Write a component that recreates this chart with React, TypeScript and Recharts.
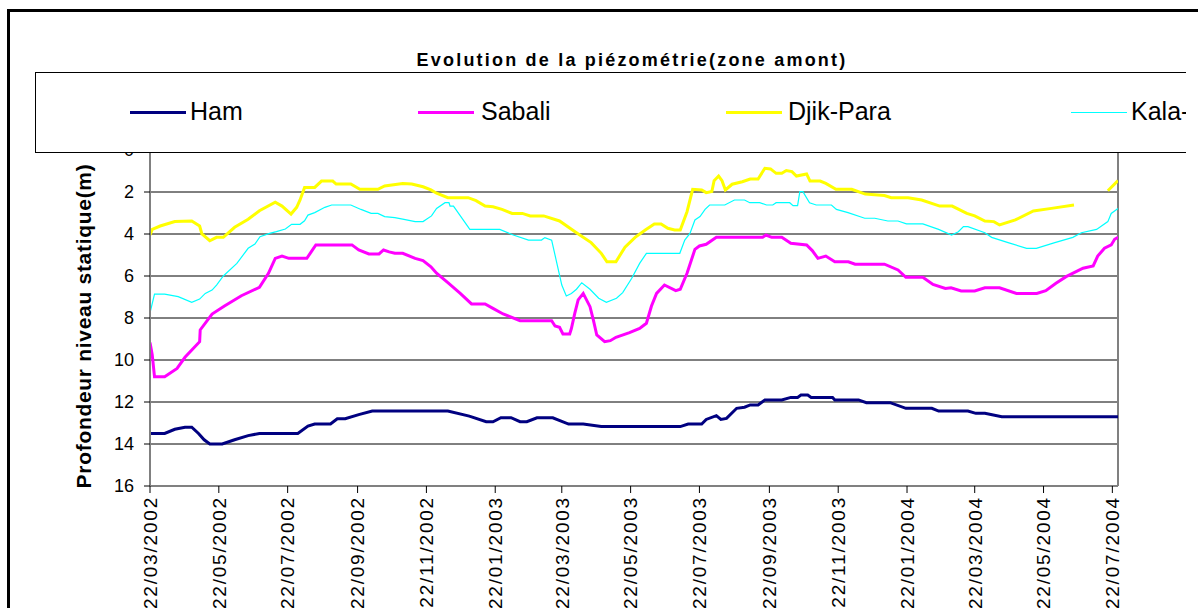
import { LineChart, Line, XAxis, YAxis, CartesianGrid, ReferenceLine } from 'recharts'

// jours depuis le 22/03/2002, profondeur (m)
const ham: [number, number][] = [
  [0, 13.5], [13, 13.5], [22, 13.3], [31, 13.2], [37, 13.2], [43, 13.5], [48, 13.8], [53, 14.0], [64, 14.0],
  [75, 13.8], [87, 13.6], [97, 13.5], [131, 13.5], [140, 13.15], [146, 13.05], [160, 13.05], [166, 12.8],
  [173, 12.8], [185, 12.6], [197, 12.43], [264, 12.43], [283, 12.67], [298, 12.94], [304, 12.94], [311, 12.75],
  [320, 12.75], [328, 12.94], [334, 12.94], [343, 12.75], [357, 12.75], [371, 13.05], [384, 13.05], [400, 13.17],
  [470, 13.17], [477, 13.05], [489, 13.05], [493, 12.83], [502, 12.65], [506, 12.83], [511, 12.78], [520, 12.3],
  [527, 12.25], [532, 12.14], [539, 12.14], [545, 11.9], [560, 11.9], [568, 11.78], [574, 11.78], [577, 11.67],
  [583, 11.67], [586, 11.78], [605, 11.78], [607, 11.9], [628, 11.9], [635, 12.03], [656, 12.03], [670, 12.3],
  [693, 12.3], [699, 12.43], [725, 12.43], [732, 12.54], [740, 12.54], [755, 12.7], [858, 12.7],
]

const sabali: [number, number][] = [
  [0, 9.17], [2, 9.76], [4, 10.8], [13, 10.8], [24, 10.4], [31, 9.87], [44, 9.13], [44.5, 8.57], [55, 7.81],
  [66, 7.43], [81, 6.94], [97, 6.54], [105, 5.87], [111, 5.16], [117, 5.05], [123, 5.16], [139, 5.16], [143, 4.84],
  [147, 4.52], [179, 4.52], [185, 4.76], [194, 4.95], [203, 4.95], [207, 4.76], [212, 4.85], [217, 4.92],
  [224, 4.92], [235, 5.16], [242, 5.27], [249, 5.56], [254, 5.87], [264, 6.32], [275, 6.83], [285, 7.33],
  [297, 7.33], [304, 7.54], [313, 7.81], [328, 8.13], [356, 8.13], [359, 8.38], [363, 8.44], [366, 8.76],
  [372, 8.76], [373.5, 8.5], [376.5, 7.78], [379.5, 7.14], [384, 6.83], [390, 7.46], [393, 8.1], [396, 8.81],
  [403, 9.13], [408, 9.08], [413, 8.92], [425, 8.7], [434, 8.5], [440, 8.25], [444.5, 7.43], [449, 6.83],
  [456, 6.43], [466, 6.7], [470, 6.63], [476, 5.87], [483, 4.73], [487, 4.57], [493, 4.49], [502, 4.16],
  [543, 4.16], [546, 4.05], [551, 4.16], [560, 4.16], [568, 4.44], [582, 4.52], [587, 4.79], [592, 5.16],
  [599, 5.05], [607, 5.32], [619, 5.32], [625, 5.44], [651, 5.44], [663, 5.71], [670, 6.06], [685, 6.06],
  [694, 6.4], [705, 6.59], [710, 6.56], [719, 6.71], [731, 6.71], [740, 6.56], [753, 6.56], [768, 6.83],
  [786, 6.83], [794, 6.7], [803, 6.35], [812, 6.03], [827, 5.63], [836, 5.52], [840, 5.05], [846, 4.68],
  [852, 4.52], [855, 4.25], [858, 4.16],
]

const djikPara: [number, number | null][] = [
  [0, 4.05], [2, 3.78], [9, 3.62], [22, 3.41], [37, 3.38], [44, 3.62], [46, 4.0], [53, 4.32], [59, 4.16],
  [65, 4.16], [75, 3.68], [87, 3.3], [97, 2.89], [111, 2.49], [117, 2.67], [125, 3.05], [130, 2.73], [133, 2.38],
  [137, 1.78], [146, 1.78], [152, 1.48], [162, 1.48], [165, 1.62], [178, 1.62], [186, 1.87], [202, 1.87],
  [208, 1.71], [224, 1.59], [232, 1.62], [242, 1.75], [249, 1.9], [254, 2.06], [264, 2.27], [282, 2.27],
  [289, 2.41], [297, 2.67], [304, 2.7], [312, 2.83], [321, 3.02], [330, 3.02], [337, 3.14], [349, 3.14],
  [363, 3.38], [378, 3.94], [391, 4.41], [400, 4.92], [405, 5.32], [413, 5.32], [421, 4.63], [430, 4.16],
  [439, 3.81], [447, 3.52], [453, 3.52], [459, 3.73], [465, 3.81], [470, 3.81], [476, 2.94], [481, 1.87],
  [489, 1.9], [493, 2.03], [498, 1.98], [500, 1.46], [504, 1.24], [507, 1.46], [510, 1.9], [516, 1.63],
  [525, 1.51], [532, 1.38], [539, 1.38], [545, 0.87], [550, 0.9], [555, 1.11], [560, 1.11], [564, 0.98],
  [569, 1.03], [573, 1.24], [582, 1.14], [585, 1.48], [594, 1.48], [599, 1.59], [608, 1.87], [622, 1.87],
  [634, 2.1], [651, 2.17], [657, 2.27], [672, 2.27], [684, 2.38], [700, 2.67], [711, 2.67], [724, 3.02],
  [731, 3.14], [740, 3.38], [748, 3.41], [753, 3.57], [767, 3.33], [783, 2.9], [799, 2.78], [819, 2.62],
  [835, null], [849, 1.94], [858, 1.46],
]

const kala: [number, number][] = [
  [0, 7.75], [4, 6.86], [13, 6.86], [25, 6.98], [37, 7.25], [44, 7.1], [49, 6.83], [55, 6.67], [59, 6.43],
  [65, 6.0], [77, 5.4], [87, 4.68], [93, 4.48], [97.5, 4.13], [106, 3.97], [112, 3.89], [120, 3.76], [125.5, 3.54],
  [133, 3.54], [137, 3.37], [140, 3.1], [146, 2.98], [155, 2.73], [161, 2.62], [178, 2.62], [187, 2.83],
  [196, 3.02], [202, 3.02], [208, 3.17], [217, 3.22], [224, 3.29], [235, 3.41], [242, 3.41], [249.5, 3.14],
  [254, 2.78], [261.5, 2.51], [265, 2.51], [266, 2.67], [269, 2.67], [283.5, 3.78], [310, 3.78], [322, 4.05],
  [335.5, 4.29], [347, 4.29], [350, 4.17], [356, 4.29], [360, 5.24], [365, 6.43], [369, 6.95], [373.5, 6.83],
  [378, 6.63], [382.7, 6.32], [390, 6.63], [397.7, 7.06], [404.5, 7.25], [413.5, 7.06], [419, 6.79], [427, 6.11],
  [434, 5.4], [440, 4.92], [469.6, 4.92], [474, 4.29], [478.6, 3.97], [483, 3.33], [487.5, 3.17], [492, 2.83],
  [496, 2.62], [509.5, 2.62], [518, 2.38], [527, 2.38], [531.6, 2.51], [540.4, 2.51], [546.5, 2.62], [552, 2.62],
  [555, 2.51], [567, 2.51], [570, 2.65], [574, 2.65], [576, 1.98], [578.7, 1.98], [584.6, 2.51], [590.5, 2.62],
  [604, 2.62], [608.4, 2.83], [618.7, 2.98], [633.5, 3.25], [642.4, 3.25], [654, 3.38], [663, 3.38],
  [670.5, 3.52], [685, 3.52], [699, 3.78], [710.5, 4.05], [716.5, 3.89], [721, 3.65], [725, 3.65], [740, 3.94],
  [746, 4.16], [760.6, 4.41], [777, 4.68], [785.6, 4.68], [802, 4.41], [818, 4.16], [825.5, 3.94], [839, 3.78],
  [849, 3.41], [852, 3.02], [858, 2.78],
]

const tickLabels = [
  '22/03/2002', '22/05/2002', '22/07/2002', '22/09/2002', '22/11/2002', '22/01/2003', '22/03/2003', '22/05/2003',
  '22/07/2003', '22/09/2003', '22/11/2003', '22/01/2004', '22/03/2004', '22/05/2004', '22/07/2004',
]
const yTicks = [0, 2, 4, 6, 8, 10, 12, 14, 16]

const JOUR = 86400000
const debut = Date.UTC(2002, 2, 22)
const fin = debut + 858 * JOUR

const parse = (s: string) => {
  const [d, m, y] = s.split('/').map(Number)
  return Date.UTC(y, m - 1, d)
}
const xTicks = tickLabels.map(parse)
const fmt = (t: number) => {
  const d = new Date(t)
  const p = (n: number) => String(n).padStart(2, '0')
  return `${p(d.getUTCDate())}/${p(d.getUTCMonth() + 1)}/${d.getUTCFullYear()}`
}
const toData = (pts: [number, number | null][]) => pts.map(([j, v]) => ({ t: debut + j * JOUR, v }))

const series = [
  { name: 'Ham', data: toData(ham), color: '#000080', width: 3 },
  { name: 'Sabali', data: toData(sabali), color: '#FF00FF', width: 3 },
  { name: 'Djik-Para', data: toData(djikPara), color: '#FFFF00', width: 3 },
  { name: 'Kala-', data: toData(kala), color: '#00FFFF', width: 1.2 },
]

// positions de la légende (page)
const legendItems = [
  { line: 130, text: 190 },
  { line: 418, text: 481 },
  { line: 726, text: 788 },
  { line: 1071, text: 1131 },
]

const XTick = ({ x, y, payload }: any) => (
  <text x={x} y={y} transform={`rotate(-90 ${x} ${y})`} textAnchor="end" dy="0.36em" fontSize={19}
    letterSpacing={1.8} fill="#000">
    {fmt(payload.value)}
  </text>
)

export default function App() {
  return (
    <div style={{ position: 'absolute', left: 0, top: 0, width: 1198, height: 608, overflow: 'hidden',
      background: '#fff', fontFamily: '"Liberation Sans", Arial, sans-serif' }}>
      <div style={{ position: 'absolute', left: 7, top: 9, width: 1300, height: 700, border: '3px solid #000' }} />
      <div style={{ position: 'absolute', left: 0, top: 0 }}>
        <LineChart width={1198} height={608} margin={{ top: 150, right: 80, left: 0, bottom: 0 }}>
          <CartesianGrid vertical={false} stroke="#000" strokeWidth={1} />
          <XAxis type="number" dataKey="t" domain={[debut, fin]} ticks={xTicks} interval={0} height={122}
            tick={<XTick />} tickSize={7} tickMargin={3} allowDataOverflow
            axisLine={{ stroke: '#808080', strokeWidth: 2 }} tickLine={{ stroke: '#000' }} />
          <YAxis reversed domain={[0, 16]} ticks={yTicks} interval={0} width={150} tickSize={6} tickMargin={10}
            tick={{ fontSize: 18, fill: '#000' }} axisLine={{ stroke: '#808080', strokeWidth: 2 }}
            tickLine={{ stroke: '#000' }} />
          <ReferenceLine x={fin} stroke="#808080" strokeWidth={2} />
          {series.map(s => (
            <Line key={s.name} data={s.data} dataKey="v" name={s.name} type="linear" stroke={s.color}
              strokeWidth={s.width} dot={false} activeDot={false} isAnimationActive={false} />
          ))}
        </LineChart>
      </div>
      <svg width={1198} height={608} style={{ position: 'absolute', left: 0, top: 0, pointerEvents: 'none' }}>
        <text x={632} y={66} textAnchor="middle" fontSize={18} fontWeight="bold" letterSpacing={2.2} fill="#000">
          Evolution de la piézométrie(zone amont)
        </text>
        <text transform="translate(91,326) rotate(-90)" textAnchor="middle" fontSize={21} fontWeight="bold"
          letterSpacing={0.7} fill="#000">
          Profondeur niveau statique(m)
        </text>
      </svg>
      <div style={{ position: 'absolute', left: 35, top: 72, width: 1151, height: 81, boxSizing: 'border-box',
        borderTop: '1px solid #000', borderLeft: '1px solid #000', borderBottom: '1px solid #000',
        background: '#fff', overflow: 'hidden' }}>
        {series.map((s, i) => (
          <div key={s.name}>
            <div style={{ position: 'absolute', left: legendItems[i].line - 36, width: 56,
              top: s.width > 2 ? 38 : 39, height: s.width > 2 ? 3 : 1, background: s.color }} />
            <div style={{ position: 'absolute', left: legendItems[i].text - 36, top: 26, fontSize: 25,
              lineHeight: '25px', whiteSpace: 'nowrap', color: '#000' }}>
              {s.name}
            </div>
          </div>
        ))}
      </div>
    </div>
  )
}
